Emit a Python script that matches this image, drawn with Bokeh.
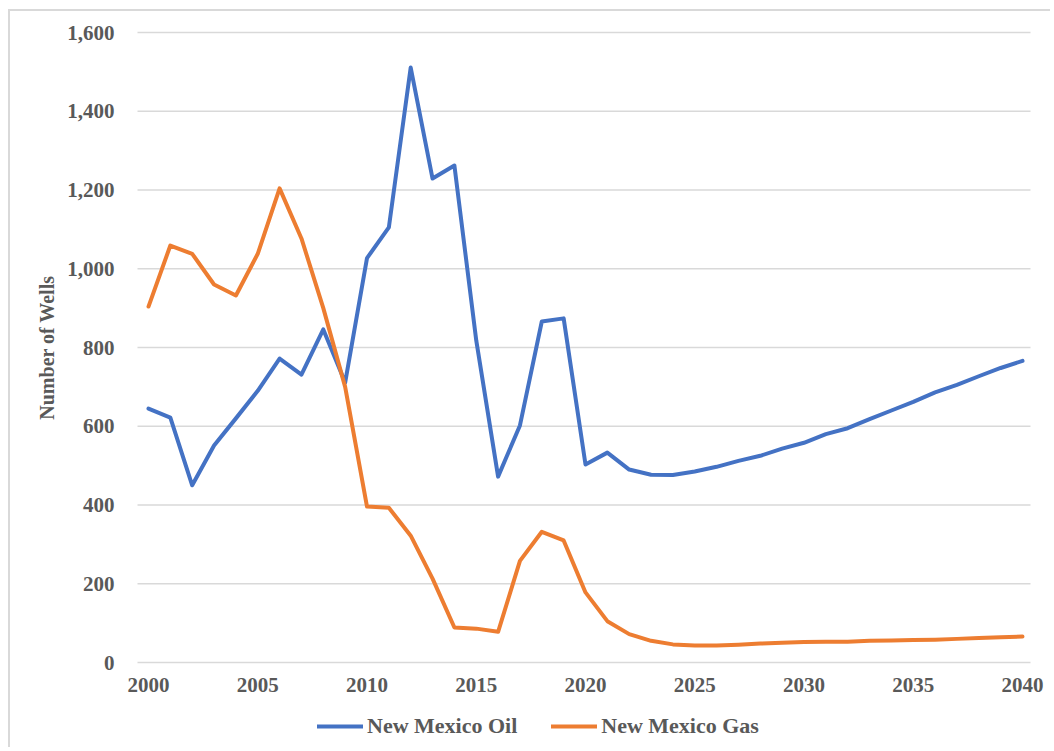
from bokeh.plotting import figure
from bokeh.models import Range1d, FixedTicker, NumeralTickFormatter, Legend, LegendItem
from bokeh.embed import file_html
from bokeh.resources import INLINE

years = list(range(2000, 2041))
oil = [645, 622, 450, 551, 620, 690, 772, 731, 846, 711,
       1027, 1105, 1511, 1229, 1262, 818, 472, 602, 866, 874,
       503, 533, 490, 477, 476, 485, 497, 512, 525, 543,
       558, 580, 595, 618, 640, 662, 686, 705, 727, 748, 766]
gas = [904, 1059, 1038, 960, 932, 1038, 1204, 1077, 900, 700,
       396, 393, 322, 213, 89, 86, 78, 258, 332, 310,
       178, 105, 72, 55, 46, 43, 43, 45, 48, 50,
       52, 53, 53, 55, 56, 57, 58, 60, 62, 64, 66]
x_ticks = [2000, 2005, 2010, 2015, 2020, 2025, 2030, 2035, 2040]
y_ticks = [0, 200, 400, 600, 800, 1000, 1200, 1400, 1600]
y_label = "Number of Wells"
names = ["New Mexico Oil", "New Mexico Gas"]
colors = ["#4472C4", "#ED7D31"]

FONT = "Liberation Serif"
TXT = "#595959"

# layout (screen px in the page): canvas content spans x 10..1052, y 11..749
W, H = 1042, 738
LEFT, TOP = 10, 11
# plot area: x 137..1030 ; 2000 at 148, 2040 at 1022 ; value 0 at 662, 1600 at 32
PX_YR = (1022 - 148) / 40
PX_VAL = (662 - 32) / 1600
X_LO = 2000 - (148 - 137) / PX_YR
X_HI = 2040 + (1030 - 1022) / PX_YR
x_start = 2000 - (148 - LEFT) / PX_YR
x_end = 2040 + (LEFT + W - 1022) / PX_YR
y_end = 1600 + (32 - TOP) / PX_VAL
y_start = -(TOP + H - 662) / PX_VAL

p = figure(width=W, height=H, output_backend="svg", toolbar_location=None,
           x_range=Range1d(x_start, x_end), y_range=Range1d(y_start, y_end),
           min_border_left=0, min_border_top=0, min_border_right=0, min_border_bottom=0)
p.outline_line_color = None
p.background_fill_color = "white"
p.border_fill_color = "white"

# horizontal gridlines across the plot area only
p.segment(x0=[X_LO] * len(y_ticks), y0=y_ticks, x1=[X_HI] * len(y_ticks), y1=y_ticks,
          line_color="#D9D9D9", line_width=1.5)

r_oil = p.line(years, oil, line_color=colors[0], line_width=4, line_join="round", line_cap="round")
r_gas = p.line(years, gas, line_color=colors[1], line_width=4, line_join="round", line_cap="round")

p.xgrid.grid_line_color = None
p.ygrid.grid_line_color = None

p.xaxis.ticker = FixedTicker(ticks=x_ticks)
p.xaxis.fixed_location = 0
p.xaxis.bounds = (2000, 2040)
p.yaxis.ticker = FixedTicker(ticks=y_ticks)
p.yaxis.formatter = NumeralTickFormatter(format="0,0")
p.yaxis.fixed_location = X_LO
p.yaxis.bounds = (0, 1600)
for ax in (p.xaxis[0], p.yaxis[0]):
    ax.axis_line_color = None
    ax.major_tick_line_color = None
    ax.minor_tick_line_color = None
    ax.major_label_text_font = FONT
    ax.major_label_text_font_style = "bold"
    ax.major_label_text_font_size = "21px"
    ax.major_label_text_color = TXT
p.xaxis.major_label_standoff = 9
p.yaxis.major_label_standoff = 17
p.yaxis.axis_label = y_label
p.yaxis.axis_label_text_font = FONT
p.yaxis.axis_label_text_font_style = "bold"
p.yaxis.axis_label_text_font_size = "20px"
p.yaxis.axis_label_text_color = TXT
p.yaxis.axis_label_standoff = 6

legend = Legend(items=[LegendItem(label=names[0], renderers=[r_oil]),
                       LegendItem(label=names[1], renderers=[r_gas])],
                orientation="horizontal", location=(317 - LEFT, TOP + H - 739),
                label_text_font=FONT, label_text_font_style="bold",
                label_text_font_size="22px", label_text_color=TXT,
                glyph_width=46, glyph_height=22, label_standoff=4, spacing=34,
                padding=0, margin=0, border_line_color=None, background_fill_alpha=0)
p.add_layout(legend, "center")

p.styles = {"border-top": "2px solid #D9D9D9", "border-left": "2px solid #D9D9D9",
            "margin-left": "8px", "margin-top": "9px"}

open("out.html", "w").write(file_html(p, INLINE))
